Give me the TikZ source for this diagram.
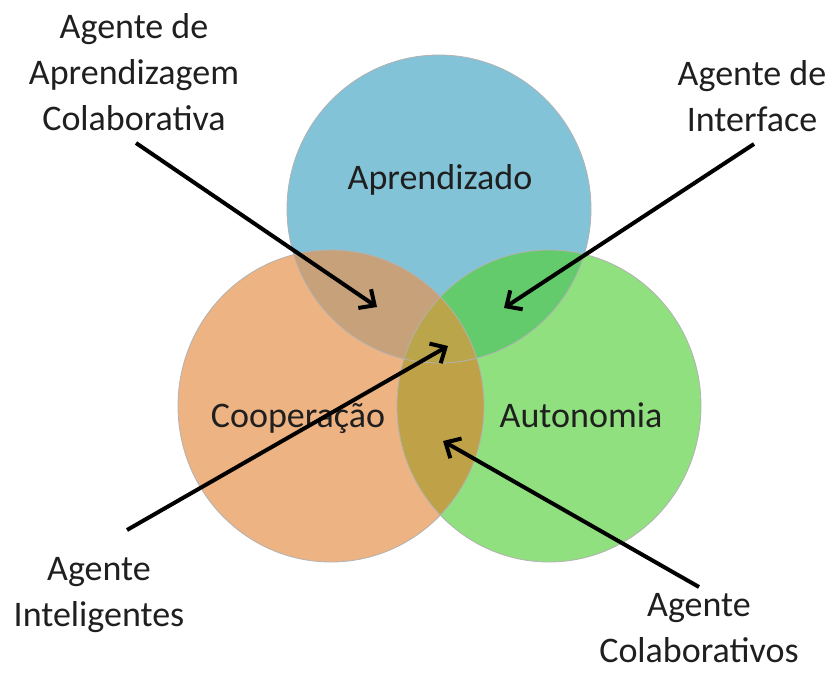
\documentclass[tikz,border=0pt]{standalone}
\usepackage{fontspec}
\setmainfont{Carlito}
\usetikzlibrary{arrows.meta,positioning}

\definecolor{blueF}{HTML}{82C3D8}
\definecolor{orangeF}{HTML}{EEB382}
\definecolor{greenF}{HTML}{90E07F}
\definecolor{blueOrange}{HTML}{C6A17A}
\definecolor{blueGreen}{HTML}{64CB6C}
\definecolor{orangeGreen}{HTML}{BFA247}
\definecolor{allThree}{HTML}{BBA54A}

\newcommand{\blueset}{(439,209) ellipse [x radius=152, y radius=154]}
\newcommand{\orangeset}{(331,406) ellipse [x radius=153, y radius=156]}
\newcommand{\greenset}{(549,406) ellipse [x radius=152, y radius=156]}

\begin{document}
\begin{tikzpicture}[x=0.75pt, y=-0.75pt,
    lbl/.style={font=\fontsize{27}{34.5}\selectfont, text=black!88, align=center, inner sep=0pt},
    ring/.style={draw=black!30, line width=0.6pt},
    arr/.style={-{Straight Barb[length=9pt, width=17pt]}, line width=3pt, black}
]
    \useasboundingbox (0,0) rectangle (832,677);

    % Circles
    \fill[blueF] \blueset;
    \fill[orangeF] \orangeset;
    \fill[greenF] \greenset;

    % Overlaps
    \begin{scope}
        \clip \blueset;
        \fill[blueOrange] \orangeset;
        \fill[blueGreen] \greenset;
    \end{scope}
    \begin{scope}
        \clip \orangeset;
        \fill[orangeGreen] \greenset;
        \clip \greenset;
        \fill[allThree] \blueset;
    \end{scope}
    \draw[ring] \blueset;
    \draw[ring] \orangeset;
    \draw[ring] \greenset;

    % Set names
    \node[lbl, anchor=base] (apr) at (440,190) {Aprendizado};
    \node[lbl, anchor=base] (coop) at (298,427) {Cooperação};
    \node[lbl, anchor=base] (auto) at (581,427) {Autonomia};

    % Agent labels
    \node[lbl] (colab) at (134,72) {Agente de\\Aprendizagem\\Colaborativa};
    \node[lbl] (iface) at (752,96) {Agente de\\Interface};
    \node[lbl] (intel) at (99,595) {Agente\\Inteligentes};
    \node[lbl] (colabs) at (699,628) {Agente\\Colaborativos};

    % Arrows
    \coordinate (tColab) at (136,143);
    \coordinate (hColab) at (377,307);
    \coordinate (tIface) at (754,144);
    \coordinate (hIface) at (504,308);
    \coordinate (tIntel) at (127,530);
    \coordinate (hIntel) at (448,346);
    \coordinate (tColabs) at (699,587);
    \coordinate (hColabs) at (443,441);
    \draw[arr] (tColab) -- (hColab);
    \draw[arr] (tIface) -- (hIface);
    \draw[arr] (tIntel) -- (hIntel);
    \draw[arr] (tColabs) -- (hColabs);
\end{tikzpicture}
\end{document}
